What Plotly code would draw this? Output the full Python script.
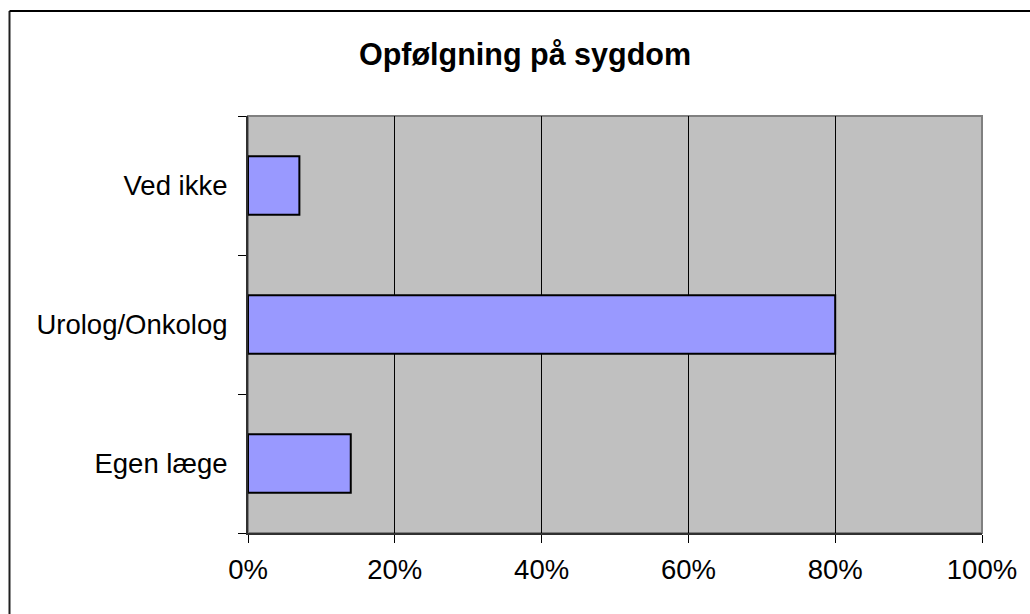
import plotly.graph_objects as go

categories = ["Egen læge", "Urolog/Onkolog", "Ved ikke"]
values = [14, 80, 7]
x_ticks = [0, 20, 40, 60, 80, 100]
x_tick_labels = ["0%", "20%", "40%", "60%", "80%", "100%"]
title_text = "Opfølgning på sygdom"

W, H = 1030, 614
L, R, T, B = 248, 982, 116, 533

fig = go.Figure()
fig.add_trace(go.Bar(
    x=values, y=categories, orientation="h",
    width=0.42,
    marker=dict(color="#9999FF", line=dict(color="black", width=2)),
    hoverinfo="x+y",
))

pw, ph = R - L, B - T
def px(x):
    return (x - L) / pw
def py(y):
    return (B - y) / ph

fig.update_layout(
    width=W, height=H,
    margin=dict(l=L, r=W - R, t=T, b=H - B, pad=0),
    paper_bgcolor="white",
    plot_bgcolor="#C0C0C0",
    showlegend=False,
    font=dict(family="Liberation Sans, Arial, sans-serif", size=27.5, color="black"),
    title=dict(text="<b>" + title_text + "</b>", x=525 / W, xref="container", xanchor="center",
               y=1 - 54 / H, yref="container", yanchor="middle",
               font=dict(size=30.5, color="black")),
    xaxis=dict(range=[0, 100], tickvals=x_ticks, ticktext=x_tick_labels,
               showgrid=True, gridcolor="black", gridwidth=1, zeroline=False,
               showline=True, linecolor="#303030", linewidth=2,
               ticks="outside", ticklen=8, tickcolor="black", tickwidth=1,
               ticklabelstandoff=3, fixedrange=True),
    yaxis=dict(type="category", categoryorder="array", categoryarray=categories,
               range=[-0.5, 2.5], tickson="boundaries",
               showgrid=False, zeroline=False,
               showline=True, linecolor="#303030", linewidth=2,
               ticks="outside", ticklen=8, tickcolor="black", tickwidth=1,
               ticklabelstandoff=13, fixedrange=True),
    shapes=[
        dict(type="rect", xref="paper", yref="paper", x0=0, x1=1, y0=0, y1=1,
             line=dict(color="#808080", width=2), layer="below"),
        dict(type="line", xref="paper", yref="paper",
             x0=px(9.5), x1=px(9.5), y0=py(630), y1=py(11),
             line=dict(color="#202020", width=2), layer="above"),
        dict(type="line", xref="paper", yref="paper",
             x0=px(9.5), x1=px(1045), y0=py(11), y1=py(11),
             line=dict(color="black", width=2), layer="above"),
    ],
)

fig.write_html(
    "out.html",
    config={"displayModeBar": False},
    post_script="document.body.style.margin='0';document.body.style.overflow='hidden';",
)
